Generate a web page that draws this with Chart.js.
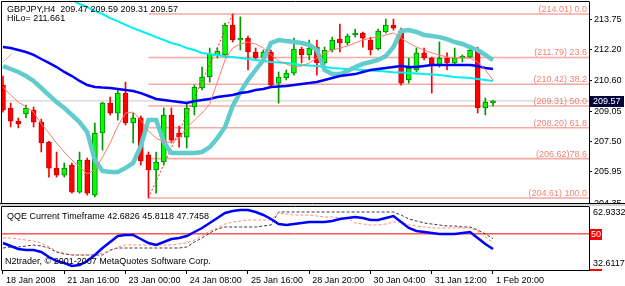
<!DOCTYPE html>
<html><head><meta charset="utf-8">
<script src="https://cdn.jsdelivr.net/npm/chart.js@4.4.0/dist/chart.umd.min.js"></script>
<style>
html,body{margin:0;padding:0;background:#fff;}
#wrap{position:relative;width:625px;height:286px;overflow:hidden;background:#fff;}
canvas{position:absolute;left:0;top:0;}
</style></head><body>
<div id="wrap"><canvas id="main" width="625" height="286"></canvas><canvas id="qqe" width="625" height="286"></canvas></div>
<script>
// ---------- data ----------
const titleText = "GBPJPY,H4  209.47 209.59 209.31 209.57";
const hiloText = "HiLo= 211.661";
const qqeTitle = "QQE Current Timeframe 42.6826 45.8118 47.7458";
const copyText = "N2trader, \u00a9 2001-2007 MetaQuotes Software Corp.";

const timeLabels = ["18 Jan 2008","21 Jan 16:00","23 Jan 00:00","24 Jan 08:00","25 Jan 16:00","28 Jan 20:00","30 Jan 04:00","31 Jan 12:00","1 Feb 20:00"];
const timeLabelBars = [0,8,16,24,32,40,48,56,64];

const open = [210.38,209.21,208.54,208.90,209.10,208.49,207.47,206.14,205.78,206.29,204.91,206.55,204.76,207.93,209.46,208.95,209.97,208.44,208.70,206.81,206.04,206.45,208.85,207.93,207.72,209.26,210.23,210.79,211.92,211.92,213.45,212.68,212.78,212.07,211.81,212.07,210.48,210.74,210.99,212.22,211.92,212.32,211.51,212.17,212.73,212.53,212.94,213.04,212.68,212.22,213.09,213.45,213.14,210.64,211.15,212.02,211.76,211.40,211.76,211.51,211.76,211.81,212.22,209.21,209.47];
const high = [210.84,209.46,208.70,209.36,209.26,208.64,207.50,206.96,206.40,206.40,206.96,206.65,208.44,209.51,209.77,210.18,210.53,208.95,208.80,206.96,206.96,209.21,209.21,208.29,209.46,210.38,211.30,212.27,212.27,213.55,214.01,213.86,212.88,212.27,212.17,212.17,211.05,211.15,212.78,212.32,212.68,212.68,212.32,212.83,213.50,212.99,213.24,213.09,212.83,213.24,213.75,213.75,213.29,211.76,212.27,212.27,211.81,212.58,212.02,212.27,211.92,212.27,212.32,209.72,209.59];
const low = [209.00,208.24,208.19,208.70,208.24,206.96,205.68,205.68,205.68,204.86,204.86,204.76,204.66,207.06,208.85,208.59,208.34,207.42,206.29,204.61,204.86,206.29,207.42,207.21,207.16,208.85,210.13,210.53,211.76,211.81,212.58,212.17,211.15,211.66,211.66,210.28,209.46,210.64,210.89,211.51,211.66,210.89,211.40,212.07,212.07,212.43,212.83,212.32,211.92,212.17,213.04,213.19,210.38,210.48,211.05,211.66,209.97,211.30,211.15,211.40,211.56,211.76,208.95,208.85,209.31];
const close = [209.10,208.54,208.39,209.21,208.49,207.42,206.14,205.78,206.14,204.91,206.55,204.86,207.93,209.46,208.95,209.97,208.44,208.70,206.50,206.04,206.45,208.85,207.57,207.72,209.21,210.28,210.79,211.97,212.12,213.45,212.68,212.78,212.07,211.76,212.07,210.38,210.79,210.99,212.22,211.92,212.27,211.51,212.17,212.68,212.53,212.88,213.04,212.78,212.17,213.14,213.45,213.29,210.48,211.25,212.02,211.76,211.40,211.76,211.51,211.76,211.86,212.17,209.21,209.51,209.57];

const maCyan = [216.26,216.10,215.95,215.80,215.59,215.44,215.24,215.08,214.88,214.73,214.52,214.37,214.16,214.01,213.80,213.65,213.45,213.29,213.14,212.99,212.83,212.68,212.53,212.43,212.27,212.17,212.02,211.97,211.92,211.84,211.81,211.76,211.71,211.66,211.61,211.56,211.53,211.51,211.46,211.40,211.38,211.35,211.30,211.25,211.22,211.20,211.17,211.15,211.12,211.10,211.07,211.04,211.02,210.99,210.97,210.94,210.92,210.89,210.84,210.79,210.77,210.74,210.69,210.64,210.59];
const maBlue = [212.32,212.27,212.17,212.07,211.92,211.71,211.51,211.30,211.05,210.84,210.59,210.38,210.28,210.25,210.23,210.18,210.13,210.08,209.97,209.82,209.67,209.62,209.56,209.51,209.46,209.56,209.62,209.67,209.77,209.82,209.87,209.97,210.03,210.13,210.18,210.28,210.31,210.33,210.38,210.43,210.48,210.54,210.64,210.74,210.84,210.89,210.94,211.05,211.15,211.20,211.25,211.30,211.35,211.30,211.30,211.35,211.40,211.40,211.40,211.40,211.40,211.40,211.35,211.25,211.20];
const bandTurq = [211.35,211.20,211.05,210.84,210.59,210.23,209.87,209.51,209.21,208.85,208.49,207.98,206.55,205.99,205.94,205.94,206.14,206.40,207.27,208.59,208.59,207.47,206.91,206.91,206.91,206.91,206.96,207.21,207.67,208.24,209.31,210.02,210.64,211.15,211.66,212.53,212.68,212.63,212.58,212.53,212.43,212.17,211.15,210.94,210.94,211.10,211.30,211.46,211.56,211.66,211.86,212.32,213.14,213.19,213.09,212.94,212.89,212.83,212.73,212.58,212.48,212.32,212.17,211.92,211.66];
const maSalmon = [210.28,209.87,209.51,209.26,209.00,208.39,207.93,207.42,206.96,206.55,206.19,205.84,206.04,206.70,207.42,208.29,208.95,209.00,208.59,208.03,207.67,207.47,207.47,207.67,208.19,208.59,208.95,209.41,210.53,211.66,212.27,212.48,212.58,212.48,212.27,211.92,211.61,211.46,211.30,211.35,211.51,211.76,212.02,212.17,212.27,212.38,212.53,212.68,212.78,212.83,212.94,213.04,212.78,212.53,212.32,212.17,212.02,211.92,211.81,211.76,211.76,211.76,211.56,211.15,210.64];

const fibPrices = [214.01,211.79,210.42,209.31,208.20,206.62,204.61];
const fibLabels = ["(214.01) 0.0","(211.79) 23.6","(210.42) 38.2","(209.31) 50.0","(208.20) 61.8","(206.62)78.6","(204.61) 100.0"];
const fibStartBar = 19, fibEndBar = 30;
const cornerLine = [211.56, 212.00];
const priceTicks = [213.75,212.20,210.60,209.05,207.50,205.95,204.35];
const bid = 209.57;

const qqeRsi = [45.61,44.16,42.72,42.24,42.24,41.27,38.87,36.94,35.98,34.54,35.02,36.94,39.83,43.20,46.09,48.98,49.46,49.46,47.53,45.61,44.64,46.09,47.53,48.01,48.98,50.90,52.83,55.23,57.64,60.05,61.01,61.49,61.49,60.53,59.08,57.16,54.75,54.27,54.75,55.23,55.71,55.71,55.71,56.20,57.16,57.64,58.12,57.64,56.68,56.68,57.64,58.60,55.71,52.83,51.38,50.90,50.42,49.94,49.94,49.94,50.42,50.90,48.01,45.12,42.68];
const qqeFast = [48.01,48.01,47.53,47.05,46.57,45.61,43.68,41.76,40.79,39.83,39.83,39.83,39.83,40.79,41.76,43.68,44.64,44.64,44.64,44.64,44.64,44.64,44.64,45.12,45.61,47.05,48.98,51.38,52.83,54.75,55.71,56.20,56.68,56.68,56.68,56.68,60.05,59.56,59.08,59.08,59.08,58.60,58.12,58.12,57.64,57.64,55.23,54.75,54.27,54.27,54.75,55.71,55.71,54.27,53.79,53.31,52.83,52.83,52.83,52.83,52.83,52.83,51.38,48.49,45.81];
const qqeSlow = [43.20,43.68,43.68,44.16,44.64,44.16,43.20,41.27,40.31,39.83,39.83,39.83,39.83,39.83,42.24,43.20,43.20,43.20,43.20,43.20,43.20,43.20,43.20,43.20,43.68,46.09,48.01,50.42,52.35,53.31,53.31,53.31,53.31,53.31,53.79,54.27,60.53,60.53,60.53,60.53,60.53,60.53,60.53,60.53,60.53,60.53,60.53,60.53,60.53,60.53,60.53,60.53,59.08,57.16,56.20,55.23,54.75,54.27,53.79,53.79,53.31,53.31,51.86,49.94,47.75];
const qqeLevel = 50;
const qqeMax = 62.9332, qqeMin = 32.6117;

// ---------- helpers ----------
const FONT = "'Liberation Sans', Arial, sans-serif";
const FS = 9;
const XMIN = -0.13, XMAX = 76.54;
const N = open.length;
const idx = Array.from({length:N}, (_, i) => i);
const isBull = i => close[i] >= open[i];
const pts = arr => arr.map((v, i) => ({x: i, y: v}));
const lineDs = (data, color, width, extra) => Object.assign({type:'line', data, borderColor:color, borderWidth:width, pointRadius:0, fill:false, tension:0}, extra || {});

// ---------- main chart ----------
const mainDecor = {
  id: 'mainDecor',
  beforeDraw(chart) {
    const c = chart.ctx; c.save(); c.fillStyle = '#fff'; c.fillRect(0, 0, chart.width, chart.height); c.restore();
  },
  afterDraw(chart) {
    const c = chart.ctx, a = chart.chartArea, y = chart.scales.y;
    c.save();
    c.font = FS + 'px ' + FONT;
    c.fillStyle = '#f08478'; c.textAlign = 'right'; c.textBaseline = 'alphabetic';
    fibPrices.forEach((p, k) => c.fillText(fibLabels[k], a.right - 2, Math.round(y.getPixelForValue(p)) - 2));
    c.fillStyle = '#000'; c.textAlign = 'left'; c.textBaseline = 'middle';
    c.fillText(titleText, 7, 10);
    c.fillText(hiloText, 7, 19);
    const by = Math.round(y.getPixelForValue(bid));
    c.fillStyle = '#00003a'; c.fillRect(a.right + 1, by - 5, 34, 11);
    c.fillStyle = '#fff'; c.fillText(bid.toFixed(2), a.right + 4, by + 0.5);
    // frame
    c.strokeStyle = '#000'; c.lineWidth = 1;
    c.beginPath();
    c.moveTo(a.left - 0.5, a.bottom + 0.5); c.lineTo(a.left - 0.5, a.top - 0.5); c.lineTo(a.right + 0.5, a.top - 0.5);
    c.moveTo(0, a.bottom + 0.5); c.lineTo(chart.width, a.bottom + 0.5);
    c.stroke();
    c.fillStyle = '#d4d4d4'; c.fillRect(0, a.bottom + 1, chart.width, 2);
    c.restore();
  }
};

const mainDatasets = [
  {type:'bar', data: idx.map(i => ({x:i, y:[low[i], high[i]]})), barThickness:1, grouped:false,
   backgroundColor: ctx => isBull(ctx.dataIndex) ? '#009a00' : '#ff0000', borderWidth:0, order:20},
  {type:'bar', data: idx.map(i => ({x:i, y:[open[i], close[i]]})), barThickness:5, grouped:false, borderSkipped:false,
   backgroundColor: ctx => isBull(ctx.dataIndex) ? '#00ff00' : '#ff0000',
   borderColor: ctx => isBull(ctx.dataIndex) ? '#008000' : '#d00000', borderWidth:1, order:19},
  lineDs([{x:XMIN, y:bid}, {x:XMAX, y:bid}], '#c8c8c8', 1, {order:30}),
];
fibPrices.forEach(p => mainDatasets.push(lineDs([{x:fibStartBar, y:p}, {x:XMAX, y:p}], '#f6aaa2', 1.6, {order:25})));
mainDatasets.push(
  lineDs([{x:fibStartBar, y:low[fibStartBar]}, {x:fibEndBar, y:high[fibEndBar]}], '#ff2a2a', 1, {borderDash:[2,2], order:5}),
  lineDs([{x:0, y:cornerLine[0]}, {x:1.2, y:cornerLine[1]}], '#f6a29a', 1, {order:6}),
  lineDs(pts(maCyan), '#00f0f0', 2, {order:4}),
  lineDs(pts(bandTurq), '#62cccc', 4.5, {order:3}),
  lineDs(pts(maBlue), '#0000ff', 2.5, {order:2}),
  lineDs(pts(maSalmon), '#ff7b6b', 1, {order:1})
);

new Chart(document.getElementById('main'), {
  type: 'bar',
  data: { datasets: mainDatasets },
  options: {
    responsive:false, animation:false, devicePixelRatio:1,
    layout: { padding: { left:2, top:2, right:0, bottom:83 } },
    plugins: { legend:{display:false}, tooltip:{enabled:false} },
    scales: {
      x: { type:'linear', min:XMIN, max:XMAX, offset:false, display:false },
      y: { type:'linear', position:'right', min:204.355, max:214.623,
        afterBuildTicks: s => { s.ticks = priceTicks.map(v => ({value:v})); },
        afterFit: s => { s.width = 36; s.paddingTop = 0; s.paddingBottom = 0; },
        grid: { drawOnChartArea:false, drawTicks:true, tickLength:3, color:'#000' },
        border: { display:true, color:'#000' },
        ticks: { font:{family:FONT, size:FS}, color:'#000', padding:2, callback: v => Number(v).toFixed(2) }
      }
    }
  },
  plugins: [mainDecor]
});

// ---------- QQE chart ----------
const qqeDecor = {
  id: 'qqeDecor',
  afterDraw(chart) {
    const c = chart.ctx, a = chart.chartArea, y = chart.scales.y;
    c.save();
    c.font = FS + 'px ' + FONT; c.textBaseline = 'middle'; c.textAlign = 'left';
    c.fillStyle = '#000';
    c.fillText(qqeTitle, 7, a.top + 10);
    c.fillText(copyText, 5, a.bottom - 8);
    c.fillText(qqeMax.toFixed(4), a.right + 4, a.top + 6);
    c.fillText(qqeMin.toFixed(4), a.right + 4, a.bottom - 6);
    const ly = Math.round(y.getPixelForValue(qqeLevel));
    c.fillStyle = '#ff0000'; c.fillRect(a.right + 1, ly - 5, 12, 11);
    c.fillRect(a.right + 1, a.bottom - 1, 12, 2);
    c.fillStyle = '#fff'; c.fillText(String(qqeLevel), a.right + 2, ly + 0.5);
    c.strokeStyle = '#000'; c.lineWidth = 1;
    c.beginPath();
    c.moveTo(a.left - 0.5, a.bottom + 0.5); c.lineTo(a.left - 0.5, a.top - 0.5); c.lineTo(a.right + 0.5, a.top - 0.5);
    c.stroke();
    c.restore();
  }
};

new Chart(document.getElementById('qqe'), {
  type: 'line',
  data: { datasets: [
    lineDs(pts(qqeRsi), '#0000ff', 2.5, {order:0}),
    lineDs(pts(qqeFast), '#ff8a7c', 1, {borderDash:[3,2], order:1}),
    lineDs(pts(qqeSlow), '#3a3a3a', 1, {borderDash:[3,2], order:2}),
    lineDs([{x:XMIN, y:qqeLevel}, {x:XMAX, y:qqeLevel}], '#ff0000', 1, {order:3})
  ]},
  options: {
    responsive:false, animation:false, devicePixelRatio:1,
    layout: { padding: { left:2, top:207, right:0, bottom:0 } },
    plugins: { legend:{display:false}, tooltip:{enabled:false} },
    scales: {
      x: { type:'linear', min:XMIN, max:XMAX, position:'bottom', offset:false,
        afterBuildTicks: s => { s.ticks = timeLabelBars.map(v => ({value:v})); },
        afterFit: s => { s.height = 16; s.paddingLeft = 0; s.paddingRight = 0; },
        grid: { drawOnChartArea:false, drawTicks:true, tickLength:4, color:'#000' },
        border: { display:true, color:'#000' },
        ticks: { autoSkip:false, maxRotation:0, minRotation:0, align:'start', labelOffset:3, padding:1,
          font:{family:FONT, size:FS}, color:'#000', callback: (v, i) => timeLabels[i] }
      },
      y: { type:'linear', position:'right', min:qqeMin, max:qqeMax,
        afterFit: s => { s.width = 36; s.paddingTop = 0; s.paddingBottom = 0; },
        ticks: { display:false }, grid: { display:false },
        border: { display:true, color:'#000' }
      }
    }
  },
  plugins: [qqeDecor]
});
</script>
</body></html>
